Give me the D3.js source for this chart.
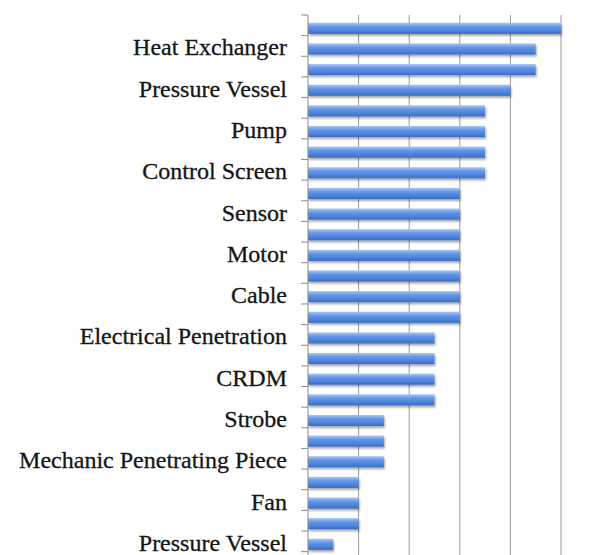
<!DOCTYPE html>
<html>
<head>
<meta charset="utf-8">
<script src="https://cdn.jsdelivr.net/npm/d3@7"></script>
<style>
  html, body { margin: 0; padding: 0; background: #fff; }
  svg { display: block; }
</style>
</head>
<body>
<svg id="chart" width="601" height="555"></svg>
<script>
// Categories listed top to bottom; only every second one carries a printed label.
const labels = [
  "", "Heat Exchanger", "", "Pressure Vessel", "", "Pump", "", "Control Screen",
  "", "Sensor", "", "Motor", "", "Cable", "", "Electrical Penetration",
  "", "CRDM", "", "Strobe", "", "Mechanic Penetrating Piece", "", "Fan",
  "", "Pressure Vessel"
];
const values = [10, 9, 9, 8, 7, 7, 7, 7, 6, 6, 6, 6, 6, 6, 6, 5, 5, 5, 5, 3, 3, 3, 2, 2, 2, 1];
const xMax = 10;
const xTicks = [2, 4, 6, 8, 10];

const svg = d3.select("#chart");
const margin = { top: 18, left: 308 };
const H = 555;
const step = 20.64;

const idx = d3.range(values.length);
const y = d3.scaleBand().domain(idx).range([margin.top, margin.top + step * values.length]).paddingInner(0.46).paddingOuter(0.23);
const x = d3.scaleLinear().domain([0, xMax]).range([margin.left, 561]);

const defs = svg.append("defs");
const grad = defs.append("linearGradient").attr("id", "barFill").attr("x1", 0).attr("y1", 0).attr("x2", 0).attr("y2", 1);
grad.append("stop").attr("offset", "0%").attr("stop-color", "#a9c8f2");
grad.append("stop").attr("offset", "35%").attr("stop-color", "#6497e6");
grad.append("stop").attr("offset", "75%").attr("stop-color", "#4a80d8");
grad.append("stop").attr("offset", "100%").attr("stop-color", "#3b6cc0");

const shadow = defs.append("filter").attr("id", "barShadow").attr("x", "-5%").attr("y", "-30%").attr("width", "110%").attr("height", "180%");
shadow.append("feGaussianBlur").attr("in", "SourceAlpha").attr("stdDeviation", 1.2).attr("result", "b");
shadow.append("feOffset").attr("in", "b").attr("dx", 1).attr("dy", 2).attr("result", "o");
shadow.append("feComponentTransfer").attr("in", "o").attr("result", "s")
  .append("feFuncA").attr("type", "linear").attr("slope", 0.35);
const merge = shadow.append("feMerge");
merge.append("feMergeNode").attr("in", "s");
merge.append("feMergeNode").attr("in", "SourceGraphic");

const plotTop = y.range()[0];

// vertical gridlines
svg.append("g")
  .selectAll("line")
  .data(xTicks)
  .join("line")
  .attr("x1", d => x(d)).attr("x2", d => x(d))
  .attr("y1", plotTop - 3).attr("y2", H)
  .attr("stroke", "#9a9a9a").attr("stroke-width", 1);

// bars
svg.append("g")
  .selectAll("rect")
  .data(idx)
  .join("rect")
  .attr("x", x(0))
  .attr("y", i => y(i))
  .attr("width", i => x(values[i]) - x(0))
  .attr("height", y.bandwidth())
  .attr("fill", "url(#barFill)")
  .attr("filter", "url(#barShadow)");

// category axis line with ticks between categories
const axisG = svg.append("g");
axisG.append("line")
  .attr("x1", x(0)).attr("x2", x(0))
  .attr("y1", plotTop - 3).attr("y2", H)
  .attr("stroke", "#8a8a8a").attr("stroke-width", 1);
const boundaries = d3.range(values.length + 1).map(k => plotTop - 3 + k * step);
axisG.selectAll("line.tick")
  .data(boundaries)
  .join("line")
  .attr("class", "tick")
  .attr("x1", x(0) - 7).attr("x2", x(0))
  .attr("y1", d => d).attr("y2", d => d)
  .attr("stroke", "#8a8a8a").attr("stroke-width", 1);

// category labels
const yAxis = d3.axisLeft(y)
  .tickValues(idx.filter(i => labels[i] !== ""))
  .tickFormat(i => labels[i])
  .tickSize(0)
  .tickPadding(21);
const lab = svg.append("g")
  .attr("transform", `translate(${x(0)},0)`)
  .call(yAxis);
lab.select(".domain").remove();
lab.selectAll("text")
  .attr("dy", "0.27em")
  .attr("font-family", "'Liberation Serif', 'Times New Roman', serif")
  .attr("font-size", 24)
  .attr("fill", "#151515")
  .attr("stroke", "#151515")
  .attr("stroke-width", 0.3);
</script>
</body>
</html>
